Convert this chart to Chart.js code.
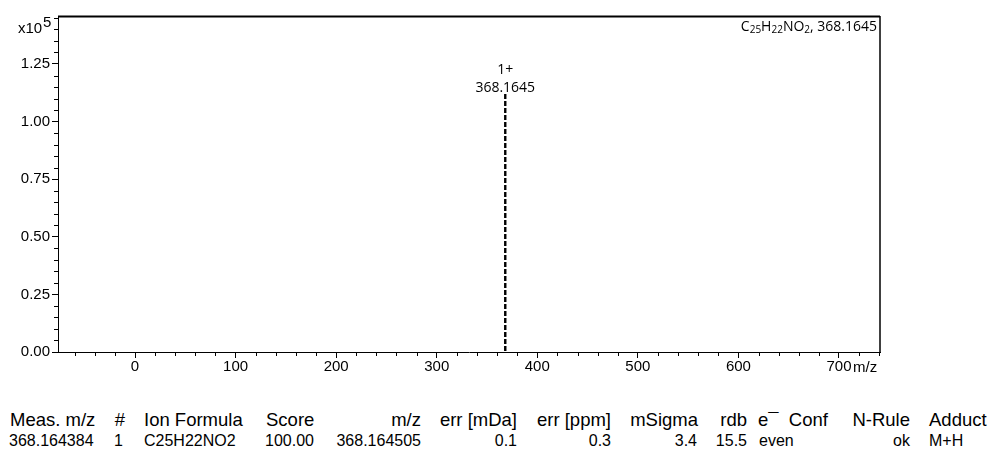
<!DOCTYPE html>
<html>
<head>
<meta charset="utf-8">
<script src="https://cdn.jsdelivr.net/npm/chart.js@4/dist/chart.umd.min.js"></script>
<style>
  body { margin: 0; background: #fff; width: 992px; height: 450px; position: relative; overflow: hidden; }
  #spectrum { position: absolute; left: 0; top: 0; }
  .cell { position: absolute; font-family: "Liberation Sans", Arial, sans-serif; color: #000; white-space: nowrap; }
  .head { font-size: 18.5px; line-height: 18px; top: 411px; }
  .val { font-size: 16px; line-height: 16px; top: 433px; }
</style>
</head>
<body>
<canvas id="spectrum" width="992" height="380"></canvas>
<div id="table"></div>
<script>
// spectrum data (intensity in units of 10^5)
const peakMz = [368.0, 368.1645, 368.33];
const peakIntensity = [0, 1.12, 0];
const peakCharge = '1+';
const peakLabel = '368.1645';
const formulaParts = [['C', 0], ['25', 1], ['H', 0], ['22', 1], ['NO', 0], ['2', 1], [', 368.1645', 0]];

// result table
const headers = ['Meas. m/z', '#', 'Ion Formula', 'Score', 'm/z', 'err [mDa]', 'err [ppm]', 'mSigma', 'rdb', 'e\u00AF  Conf', 'N-Rule', 'Adduct'];
const values = ['368.164384', '1', 'C25H22NO2', '100.00', '368.164505', '0.1', '0.3', '3.4', '15.5', 'even', 'ok', 'M+H'];
const headerX = [10, 'r125', 144, 266, 'r421', 'r517', 'r611', 'r698', 'r747', 758, 'r910', 929];
const valueX = [9, 'r123', 144, 265, 'r421', 'r517', 'r611', 'r697', 'r747', 759, 'r910', 929];

const tbl = document.getElementById('table');
function addCell(text, pos, cls) {
    const d = document.createElement('div');
    d.className = 'cell ' + cls;
    d.style.whiteSpace = 'pre';
    d.textContent = text;
    if (typeof pos === 'string') d.style.right = (992 - parseFloat(pos.slice(1))) + 'px';
    else d.style.left = pos + 'px';
    tbl.appendChild(d);
}
headers.forEach((h, i) => addCell(h, headerX[i], 'head'));
values.forEach((v, i) => addCell(v, valueX[i], 'val'));

const tickFont = { family: '"Liberation Sans", Arial, sans-serif', size: 15 };

const extras = {
    id: 'extras',
    afterDatasetsDraw(chart) {
        const ctx = chart.ctx;
        const a = chart.chartArea;
        const xs = chart.scales.x, ys = chart.scales.y;
        ctx.save();
        ctx.strokeStyle = '#000';
        // frame top/right
        ctx.lineWidth = 2;
        ctx.beginPath(); ctx.moveTo(a.left, a.top + 0.5); ctx.lineTo(a.right, a.top + 0.5); ctx.stroke();
        ctx.lineWidth = 1.5;
        ctx.beginPath(); ctx.moveTo(a.right, a.top); ctx.lineTo(a.right, a.bottom); ctx.stroke();
        // minor ticks
        ctx.lineWidth = 1;
        ctx.beginPath();
        for (let v = -60; v <= 740; v += 20) {
            if (v % 100 === 0) continue;
            const px = Math.round(xs.getPixelForValue(v)) + 0.5;
            ctx.moveTo(px, a.bottom); ctx.lineTo(px, a.bottom + 4);
        }
        for (let i = 1; i * 0.05 <= ys.max; i++) {
            if (i % 5 === 0) continue;
            const py = Math.round(ys.getPixelForValue(i * 0.05)) + 0.5;
            ctx.moveTo(a.left - 4, py); ctx.lineTo(a.left, py);
        }
        ctx.stroke();
        // axis units
        ctx.fillStyle = '#000';
        ctx.font = '15px "Liberation Sans", Arial, sans-serif';
        ctx.textBaseline = 'alphabetic';
        ctx.textAlign = 'left';
        ctx.fillText('m/z', 853, 372);
        ctx.fillText('x10', 18, 33);
        ctx.fillText('5', 43, 27);
        // peak annotation
        const px = xs.getPixelForValue(peakMz[1]);
        const py = ys.getPixelForValue(peakIntensity[1]);
        ctx.font = '14px "Open Sans", sans-serif';
        ctx.textAlign = 'center';
        ctx.fillText(peakCharge, px, py - 20);
        ctx.fillText(peakLabel, px, py - 2);
        // formula label, right aligned
        const big = '14px "Open Sans", sans-serif', small = '10px "Open Sans", sans-serif';
        let w = 0;
        formulaParts.forEach(p => { ctx.font = p[1] ? small : big; w += ctx.measureText(p[0]).width; });
        let x = a.right - 3 - w;
        ctx.textAlign = 'left';
        formulaParts.forEach(p => {
            ctx.font = p[1] ? small : big;
            ctx.fillText(p[0], x, p[1] ? 33 : 31);
            x += ctx.measureText(p[0]).width;
        });
        ctx.restore();
    }
};

// each flank is drawn from the apex down so the dashes line up
const peakStyle = { borderColor: '#000', borderWidth: 2, borderDash: [5, 2], pointRadius: 0, tension: 0, fill: false };
const leftFlank = [1, 0].map(i => ({ x: peakMz[i], y: peakIntensity[i] }));
const rightFlank = [1, 2].map(i => ({ x: peakMz[i], y: peakIntensity[i] }));

new Chart(document.getElementById('spectrum'), {
    type: 'line',
    data: {
        datasets: [
            Object.assign({ data: leftFlank }, peakStyle),
            Object.assign({ data: rightFlank }, peakStyle)
        ]
    },
    options: {
        responsive: false,
        animation: false,
        layout: { padding: { left: 0, right: 112, top: 16, bottom: 0 } },
        plugins: { legend: { display: false }, tooltip: { enabled: false } },
        scales: {
            x: {
                type: 'linear',
                min: -76.6,
                max: 740.8,
                afterFit: s => { s.height = 28; },
                grid: { drawOnChartArea: false, tickLength: 6, color: '#000' },
                border: { color: '#000', width: 1 },
                ticks: { stepSize: 100, includeBounds: false, color: '#000', font: tickFont, padding: 0, maxRotation: 0 }
            },
            y: {
                min: 0,
                max: 1.4583,
                afterFit: s => { s.width = 58; },
                grid: { drawOnChartArea: false, tickLength: 6, color: '#000' },
                border: { color: '#000', width: 1 },
                ticks: { stepSize: 0.25, includeBounds: false, color: '#000', font: tickFont, padding: 2,
                    callback: v => v.toFixed(2) }
            }
        }
    },
    plugins: [extras]
});
</script>
</body>
</html>
